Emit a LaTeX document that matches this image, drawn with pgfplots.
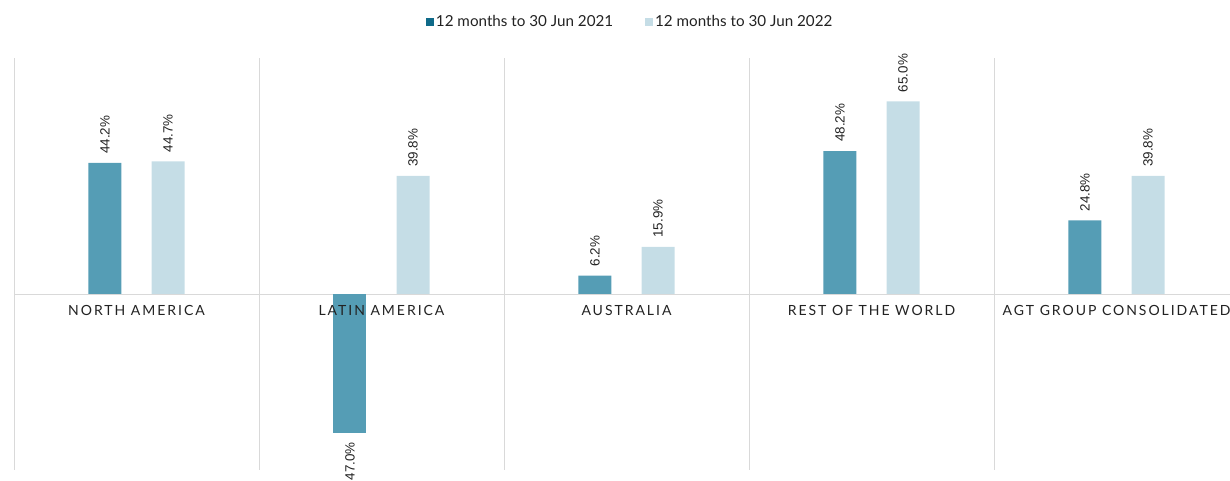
\documentclass[border=0pt]{standalone}
\usepackage{fontspec}
\setmainfont{Lato}
\newfontfamily\labfont{Liberation Sans}
\newfontfamily\catfont[LetterSpace=14]{Lato}
\usepackage{pgfplots}
\pgfplotsset{compat=1.18}
\definecolor{cA}{HTML}{559DB5}
\definecolor{cAleg}{HTML}{0F6A89}
\definecolor{cB}{HTML}{C5DDE6}
\definecolor{gridc}{HTML}{D9D9D9}
\definecolor{txt}{HTML}{222222}
\begin{document}
\begin{tikzpicture}
\clip (-14pt,-11pt) rectangle (1216pt,470pt);
\begin{axis}[
 at={(0,0)}, anchor=south west,
 scale only axis, width=1225pt, height=412pt,
 xmin=-0.5, xmax=4.5, ymin=-59.4, ymax=79.6,
 clip=false,
 axis line style={draw=none},
 xtick={-0.5,0.5,1.5,2.5,3.5,4.5}, xticklabels={},
 xmajorgrids=true,
 ytick=\empty,
 major tick length=0pt,
 extra y ticks={0}, extra y tick labels={},
 extra y tick style={grid=major},
 major grid style={gridc, line width=0.8pt},
 legend style={at={(0.503,1.087)}, anchor=center, draw=none, fill=none,
   font=\fontsize{15.2}{17}\selectfont, text=txt, inner sep=0pt,
   /tikz/every even column/.append style={column sep=30pt}},
 legend columns=2,
 legend image code/.code={\fill[#1] (0pt,-4pt) rectangle (8pt,4pt);},
 lab/.style={nodes near coords, point meta=explicit symbolic,
   nodes near coords style={rotate=90, anchor=#1, inner xsep=9pt, inner ysep=0pt,
    font=\labfont\fontsize{13.4}{14}\selectfont, text=txt}},
]
\addlegendimage{fill=cAleg, draw=none}
\addlegendentry{12 months to 30 Jun 2021}
\addlegendimage{fill=cB, draw=none}
\addlegendentry{12 months to 30 Jun 2022}

\addplot[ybar, fill=cA, draw=none, bar width=0.1347, bar shift=0, lab=west, forget plot]
 coordinates {(-0.1286,44.2) [44.2\%] (1.8714,6.2) [6.2\%] (2.8714,48.2) [48.2\%] (3.8714,24.8) [24.8\%]};
\addplot[ybar, fill=cA, draw=none, bar width=0.1347, bar shift=0, lab=east, forget plot]
 coordinates {(0.8714,-47.0) [47.0\%]};
\addplot[ybar, fill=cB, draw=none, bar width=0.1347, bar shift=0, lab=west, forget plot]
 coordinates {(0.1286,44.7) [44.7\%] (1.1286,39.8) [39.8\%] (2.1286,15.9) [15.9\%] (3.1286,65.0) [65.0\%] (4.1286,39.8) [39.8\%]};

\foreach \i/\n in {0/NORTH AMERICA, 1/LATIN AMERICA, 2/AUSTRALIA, 3/REST OF THE WORLD, 4/AGT GROUP CONSOLIDATED}{
  \edef\temp{\noexpand\node[font=\noexpand\catfont\noexpand\fontsize{14}{16}\noexpand\selectfont, anchor=base, yshift=-22pt, text=txt] at (axis cs:\i,0) {\n};}
  \temp
}
\end{axis}
\end{tikzpicture}
\end{document}
